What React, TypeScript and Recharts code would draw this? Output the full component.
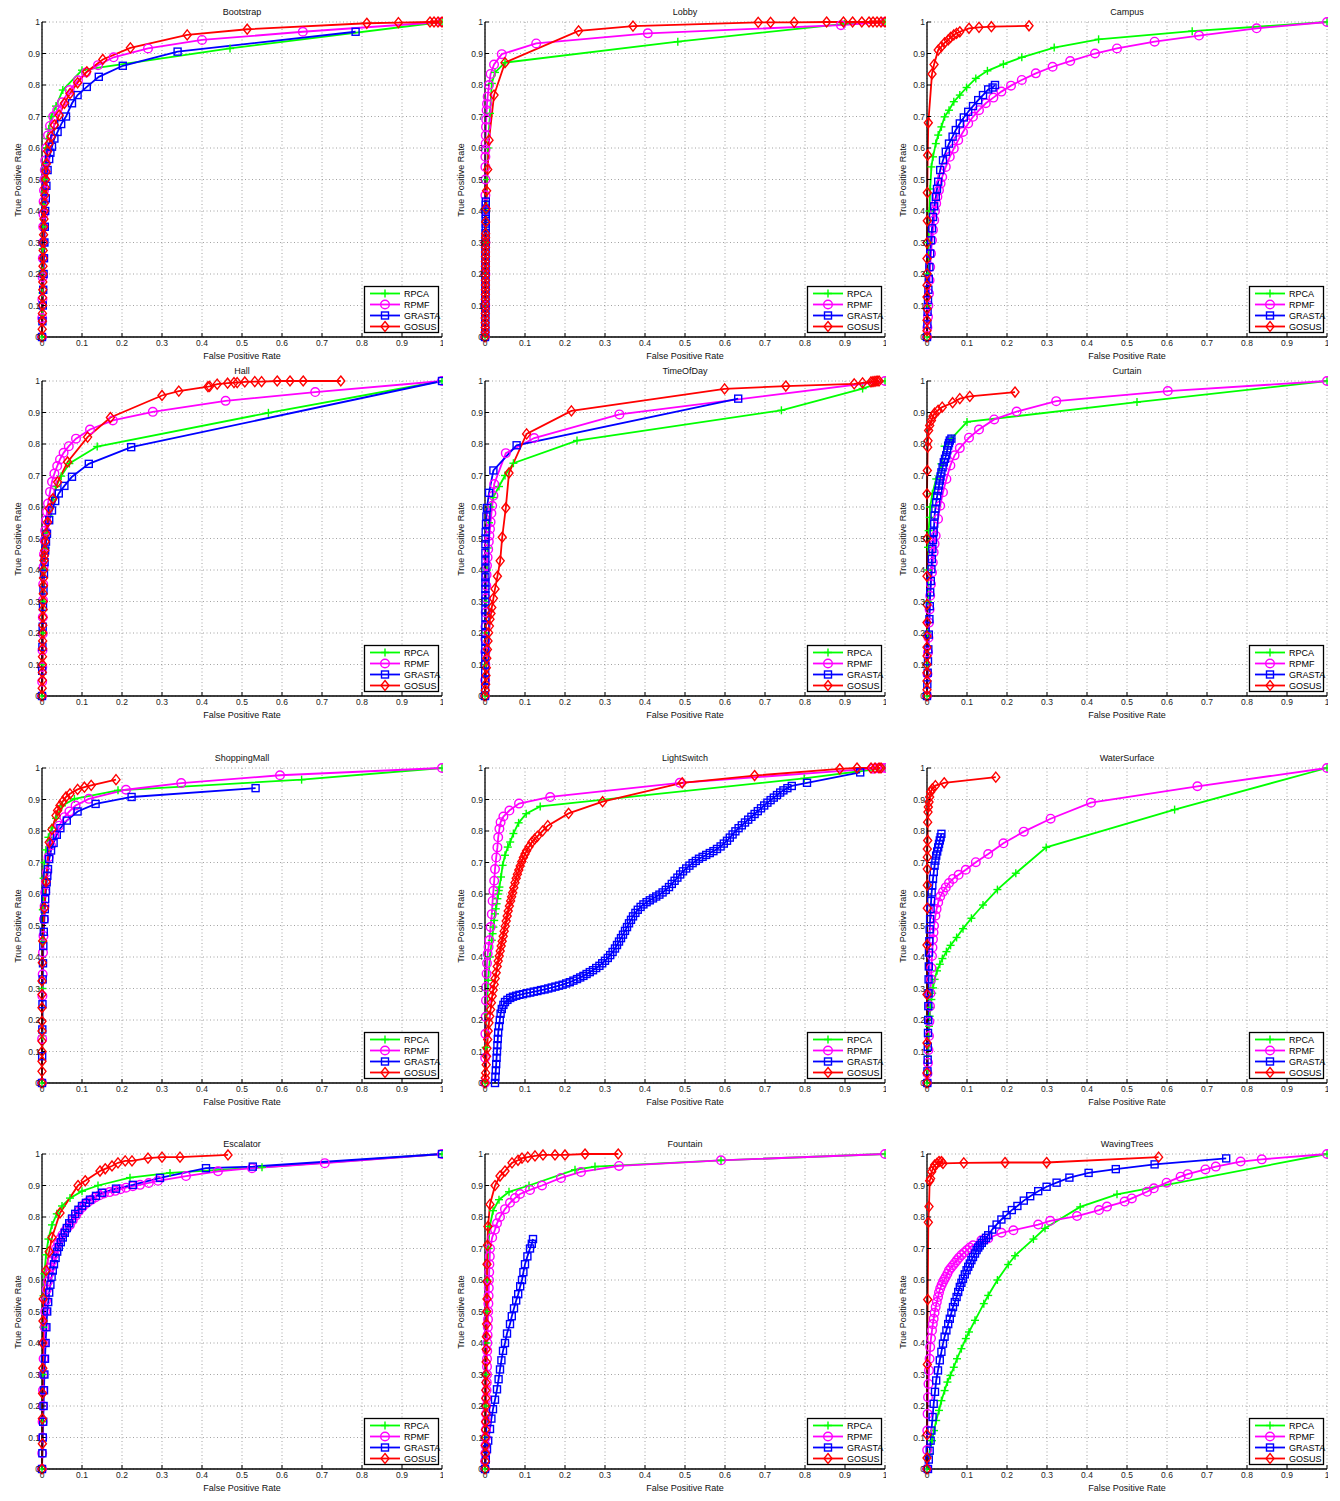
import { LineChart, Line, XAxis, YAxis, CartesianGrid, Legend } from 'recharts';

type Pt = [number, number];

const FONT = '"Liberation Sans", Arial, Helvetica, sans-serif';
const TICKS = [0, 0.1, 0.2, 0.3, 0.4, 0.5, 0.6, 0.7, 0.8, 0.9, 1];
const METHODS = ['RPCA', 'RPMF', 'GRASTA', 'GOSUS'];
const COLORS = ['#00ff00', '#ff00ff', '#0000ff', '#ff0000'];

// ---- Bootstrap
const bootstrapRPCA: Pt[] = [[0, 0], [0.0005, 0.07], [0.001, 0.14], [0.0015, 0.21], [0.002, 0.28], [0.003, 0.35], [0.004, 0.42], [0.005, 0.46], [0.006, 0.5], [0.008, 0.55], [0.01, 0.6], [0.013, 0.63], [0.017, 0.66], [0.023, 0.7], [0.035, 0.733], [0.052, 0.784], [0.1, 0.847], [0.47, 0.916], [1, 1]];
const bootstrapRPMF: Pt[] = [[0, 0], [0.0005, 0.06], [0.001, 0.12], [0.0015, 0.19], [0.002, 0.25], [0.0025, 0.3], [0.003, 0.35], [0.0035, 0.39], [0.004, 0.43], [0.005, 0.465], [0.006, 0.5], [0.007, 0.53], [0.008, 0.56], [0.011, 0.6], [0.015, 0.64], [0.02, 0.67], [0.028, 0.7], [0.038, 0.72], [0.05, 0.745], [0.069, 0.784], [0.09, 0.815], [0.11, 0.84], [0.14, 0.863], [0.179, 0.888], [0.265, 0.916], [0.4, 0.943], [0.652, 0.969], [1, 1]];
const bootstrapGRASTA: Pt[] = [[0, 0], [0.001, 0.05], [0.002, 0.1], [0.003, 0.15], [0.004, 0.2], [0.005, 0.25], [0.006, 0.3], [0.007, 0.35], [0.008, 0.4], [0.0095, 0.44], [0.011, 0.48], [0.014, 0.53], [0.018, 0.565], [0.021, 0.585], [0.025, 0.604], [0.031, 0.63], [0.039, 0.651], [0.048, 0.676], [0.06, 0.7], [0.075, 0.742], [0.089, 0.768], [0.112, 0.794], [0.142, 0.826], [0.202, 0.861], [0.339, 0.906], [0.784, 0.969]];
const bootstrapGOSUS: Pt[] = [[0, 0], [0.0005, 0.025], [0.001, 0.05], [0.001, 0.075], [0.0015, 0.1], [0.0015, 0.125], [0.002, 0.15], [0.002, 0.175], [0.0025, 0.2], [0.0025, 0.225], [0.003, 0.25], [0.003, 0.275], [0.0035, 0.3], [0.004, 0.325], [0.0045, 0.35], [0.005, 0.375], [0.0055, 0.4], [0.006, 0.425], [0.007, 0.45], [0.008, 0.475], [0.009, 0.5], [0.01, 0.525], [0.011, 0.55], [0.014, 0.59], [0.018, 0.615], [0.023, 0.636], [0.031, 0.673], [0.043, 0.704], [0.056, 0.742], [0.07, 0.773], [0.089, 0.807], [0.112, 0.842], [0.152, 0.881], [0.221, 0.918], [0.363, 0.959], [0.513, 0.977], [0.812, 0.996], [0.891, 0.998], [0.97, 1], [0.98, 1], [0.99, 1], [1, 1]];

// ---- Lobby
const lobbyRPCA: Pt[] = [[0, 0], [0.001, 0.1], [0.002, 0.2], [0.003, 0.3], [0.004, 0.4], [0.005, 0.5], [0.007, 0.6], [0.0125, 0.71], [0.017, 0.805], [0.025, 0.84], [0.05, 0.871], [0.482, 0.9375], [0.898, 0.994], [1, 1]];
const lobbyRPMF: Pt[] = [[0, 0], [0.0005, 0.1], [0.0008, 0.2], [0.001, 0.3], [0.001, 0.4], [0.001, 0.45], [0.001, 0.5], [0.001, 0.54], [0.001, 0.572], [0.0013, 0.595], [0.0017, 0.614], [0.002, 0.64], [0.0025, 0.667], [0.003, 0.69], [0.004, 0.72], [0.005, 0.74], [0.0067, 0.763], [0.01, 0.8], [0.014, 0.835], [0.0226, 0.865], [0.042, 0.898], [0.128, 0.932], [0.407, 0.964], [0.89, 0.99], [1, 1]];
const lobbyGRASTA: Pt[] = [[0, 0], [0.0005, 0.015], [0.0005, 0.03], [0.0005, 0.045], [0.0005, 0.06], [0.0008, 0.075], [0.0008, 0.09], [0.0008, 0.105], [0.0008, 0.12], [0.001, 0.135], [0.001, 0.15], [0.001, 0.165], [0.001, 0.18], [0.001, 0.195], [0.001, 0.21], [0.0012, 0.225], [0.0012, 0.24], [0.0012, 0.255], [0.0012, 0.27], [0.0015, 0.285], [0.0015, 0.3], [0.0015, 0.315], [0.0015, 0.33], [0.0018, 0.345], [0.0018, 0.36], [0.0018, 0.375], [0.0018, 0.39], [0.002, 0.405], [0.002, 0.42], [0.002, 0.43]];
const lobbyGOSUS: Pt[] = [[0, 0], [0.0003, 0.015], [0.0005, 0.03], [0.0005, 0.045], [0.0005, 0.06], [0.0007, 0.075], [0.0008, 0.09], [0.0008, 0.105], [0.0008, 0.12], [0.0009, 0.135], [0.001, 0.15], [0.001, 0.165], [0.001, 0.18], [0.001, 0.195], [0.001, 0.21], [0.001, 0.225], [0.0011, 0.24], [0.0011, 0.255], [0.0012, 0.27], [0.0012, 0.285], [0.0012, 0.3], [0.0014, 0.315], [0.0015, 0.328], [0.0017, 0.365], [0.0025, 0.408], [0.004, 0.464], [0.0067, 0.532], [0.01, 0.625], [0.0226, 0.768], [0.05, 0.871], [0.234, 0.972], [0.37, 0.987], [0.683, 0.999], [0.714, 0.999], [0.773, 0.999], [0.854, 1], [0.896, 1], [0.919, 1], [0.942, 1], [0.96, 1], [0.97, 1], [0.98, 1], [0.99, 1], [1, 1]];

// ---- Campus
const campusRPCA: Pt[] = [[0, 0], [0.001, 0.1], [0.002, 0.2], [0.004, 0.3], [0.006, 0.4], [0.008, 0.47], [0.011, 0.54], [0.015, 0.572], [0.022, 0.614], [0.028, 0.641], [0.036, 0.667], [0.044, 0.699], [0.055, 0.72], [0.067, 0.747], [0.082, 0.768], [0.099, 0.792], [0.122, 0.821], [0.151, 0.845], [0.191, 0.866], [0.237, 0.888], [0.318, 0.919], [0.429, 0.945], [0.663, 0.971], [1, 1]];
const campusRPMF: Pt[] = [[0, 0], [0.001, 0.03], [0.0025, 0.064], [0.0035, 0.1], [0.005, 0.138], [0.0065, 0.18], [0.008, 0.222], [0.01, 0.265], [0.0125, 0.307], [0.015, 0.34], [0.018, 0.371], [0.02, 0.4], [0.023, 0.424], [0.026, 0.445], [0.03, 0.466], [0.034, 0.487], [0.038, 0.508], [0.047, 0.54], [0.057, 0.572], [0.067, 0.598], [0.078, 0.625], [0.09, 0.651], [0.103, 0.678], [0.115, 0.699], [0.13, 0.72], [0.147, 0.742], [0.166, 0.76], [0.186, 0.779], [0.21, 0.798], [0.237, 0.816], [0.272, 0.837], [0.314, 0.858], [0.358, 0.876], [0.42, 0.9], [0.475, 0.916], [0.569, 0.9375], [0.68, 0.957], [0.824, 0.98], [1, 1]];
const campusGRASTA: Pt[] = [[0, 0], [0.001, 0.04], [0.0015, 0.08], [0.0025, 0.117], [0.0035, 0.15], [0.0045, 0.185], [0.006, 0.222], [0.008, 0.265], [0.01, 0.307], [0.0125, 0.345], [0.015, 0.381], [0.018, 0.415], [0.022, 0.445], [0.025, 0.47], [0.028, 0.493], [0.033, 0.53], [0.04, 0.561], [0.047, 0.588], [0.055, 0.614], [0.064, 0.636], [0.072, 0.657], [0.082, 0.678], [0.092, 0.697], [0.103, 0.715], [0.115, 0.733], [0.128, 0.752], [0.14, 0.768], [0.153, 0.786], [0.164, 0.792], [0.17, 0.8]];
const campusGOSUS: Pt[] = [[0, 0], [0, 0.02], [0, 0.053], [0, 0.09], [0, 0.127], [0, 0.164], [0, 0.201], [0, 0.249], [0, 0.299], [0.0008, 0.369], [0.0008, 0.458], [0.0017, 0.577], [0.0033, 0.68], [0.0125, 0.835], [0.0176, 0.865], [0.028, 0.911], [0.036, 0.922], [0.044, 0.934], [0.053, 0.943], [0.059, 0.951], [0.067, 0.959], [0.074, 0.964], [0.082, 0.969], [0.105, 0.98], [0.13, 0.983], [0.161, 0.985], [0.255, 0.988]];

// ---- Hall
const hallRPCA: Pt[] = [[0, 0], [0.001, 0.1], [0.002, 0.2], [0.004, 0.3], [0.006, 0.4], [0.009, 0.47], [0.0125, 0.517], [0.018, 0.571], [0.027, 0.624], [0.035, 0.665], [0.048, 0.698], [0.0685, 0.738], [0.138, 0.792], [0.566, 0.899], [1, 1]];
const hallRPMF: Pt[] = [[0, 0], [0.0004, 0.045], [0.0008, 0.092], [0.0012, 0.145], [0.0017, 0.198], [0.002, 0.25], [0.0025, 0.304], [0.003, 0.355], [0.004, 0.41], [0.005, 0.45], [0.0067, 0.494], [0.008, 0.525], [0.01, 0.558], [0.0125, 0.585], [0.015, 0.611], [0.02, 0.648], [0.025, 0.68], [0.031, 0.706], [0.038, 0.73], [0.045, 0.751], [0.054, 0.772], [0.067, 0.793], [0.085, 0.817], [0.12, 0.846], [0.177, 0.875], [0.277, 0.902], [0.459, 0.937], [0.683, 0.965], [1, 1]];
const hallGRASTA: Pt[] = [[0, 0], [0.0005, 0.08], [0.001, 0.156], [0.0017, 0.22], [0.0025, 0.283], [0.0037, 0.335], [0.005, 0.388], [0.0065, 0.425], [0.008, 0.462], [0.01, 0.49], [0.0125, 0.515], [0.018, 0.558], [0.025, 0.589], [0.033, 0.619], [0.042, 0.643], [0.056, 0.667], [0.075, 0.696], [0.117, 0.737], [0.223, 0.79], [1, 1]];
const hallGOSUS: Pt[] = [[0, 0], [0.0005, 0.025], [0.001, 0.05], [0.001, 0.075], [0.001, 0.1], [0.0012, 0.125], [0.0015, 0.15], [0.0017, 0.175], [0.002, 0.2], [0.002, 0.225], [0.0025, 0.25], [0.0027, 0.275], [0.003, 0.3], [0.0032, 0.325], [0.0035, 0.35], [0.0037, 0.375], [0.004, 0.4], [0.005, 0.43], [0.0058, 0.445], [0.0067, 0.462], [0.008, 0.49], [0.01, 0.515], [0.014, 0.552], [0.018, 0.595], [0.027, 0.626], [0.039, 0.679], [0.064, 0.743], [0.114, 0.822], [0.171, 0.884], [0.3, 0.954], [0.342, 0.968], [0.415, 0.982], [0.419, 0.983], [0.438, 0.99], [0.464, 0.993], [0.48, 0.995], [0.488, 0.995], [0.507, 0.997], [0.532, 0.998], [0.549, 0.998], [0.588, 1], [0.62, 1], [0.653, 1], [0.747, 1]];

// ---- TimeOfDay
const timeRPCA: Pt[] = [[0, 0], [0.001, 0.1], [0.002, 0.2], [0.003, 0.3], [0.005, 0.4], [0.007, 0.47], [0.01, 0.55], [0.014, 0.6], [0.02, 0.63], [0.035, 0.665], [0.05, 0.7], [0.071, 0.739], [0.23, 0.811], [0.741, 0.907], [0.944, 0.976], [1, 1]];
const timeRPMF: Pt[] = [[0, 0], [0.0004, 0.05], [0.0008, 0.1], [0.001, 0.14], [0.001, 0.18], [0.0013, 0.22], [0.0017, 0.265], [0.0025, 0.31], [0.0033, 0.35], [0.004, 0.385], [0.005, 0.414], [0.0065, 0.44], [0.008, 0.466], [0.0095, 0.49], [0.011, 0.509], [0.0125, 0.53], [0.014, 0.552], [0.016, 0.58], [0.018, 0.604], [0.021, 0.636], [0.023, 0.673], [0.052, 0.771], [0.123, 0.819], [0.336, 0.894], [1, 1]];
const timeGRASTA: Pt[] = [[0, 0], [0.0003, 0.025], [0.0005, 0.05], [0.0005, 0.075], [0.0005, 0.1], [0.0007, 0.125], [0.0008, 0.15], [0.0008, 0.175], [0.0008, 0.2], [0.001, 0.225], [0.001, 0.25], [0.001, 0.275], [0.001, 0.3], [0.001, 0.32], [0.001, 0.34], [0.001, 0.36], [0.001, 0.377], [0.001, 0.405], [0.001, 0.43], [0.001, 0.455], [0.001, 0.482], [0.0013, 0.5], [0.0017, 0.52], [0.0025, 0.546], [0.0035, 0.57], [0.005, 0.597], [0.01, 0.645], [0.021, 0.716], [0.079, 0.796], [0.633, 0.944]];
const timeGOSUS: Pt[] = [[0, 0], [0.0008, 0.018], [0.0017, 0.037], [0.0025, 0.065], [0.0033, 0.09], [0.0045, 0.12], [0.006, 0.148], [0.0075, 0.175], [0.009, 0.201], [0.011, 0.222], [0.0125, 0.244], [0.015, 0.262], [0.017, 0.281], [0.021, 0.31], [0.025, 0.34], [0.031, 0.38], [0.038, 0.429], [0.043, 0.504], [0.052, 0.597], [0.06, 0.708], [0.104, 0.832], [0.216, 0.905], [0.599, 0.975], [0.752, 0.984], [0.923, 0.991], [0.944, 0.994], [0.965, 0.997], [0.97, 0.998], [0.975, 0.999], [0.98, 1], [0.985, 1]];

// ---- Curtain
const curtainRPCA: Pt[] = [[0, 0], [0.0008, 0.1], [0.0015, 0.2], [0.002, 0.3], [0.0025, 0.4], [0.0025, 0.472], [0.004, 0.525], [0.0067, 0.567], [0.008, 0.6], [0.0134, 0.642], [0.023, 0.689], [0.036, 0.737], [0.044, 0.793], [0.061, 0.817], [0.1, 0.87], [0.525, 0.933], [1, 1]];
const curtainRPMF: Pt[] = [[0, 0], [0.0012, 0.07], [0.0025, 0.138], [0.0037, 0.185], [0.005, 0.233], [0.0065, 0.275], [0.008, 0.318], [0.01, 0.355], [0.0125, 0.392], [0.0145, 0.424], [0.0167, 0.456], [0.019, 0.483], [0.0217, 0.509], [0.0276, 0.562], [0.033, 0.604], [0.04, 0.647], [0.0485, 0.689], [0.0585, 0.732], [0.069, 0.764], [0.082, 0.787], [0.105, 0.82], [0.13, 0.846], [0.168, 0.878], [0.224, 0.903], [0.323, 0.936], [0.602, 0.968], [1, 1]];
const curtainGRASTA: Pt[] = [[0, 0], [0.0008, 0.037], [0.0017, 0.074], [0.0025, 0.11], [0.0033, 0.148], [0.0045, 0.195], [0.006, 0.244], [0.007, 0.285], [0.008, 0.329], [0.0095, 0.365], [0.011, 0.403], [0.012, 0.435], [0.0134, 0.467], [0.015, 0.495], [0.0167, 0.52], [0.018, 0.547], [0.019, 0.573], [0.021, 0.595], [0.023, 0.615], [0.0255, 0.635], [0.028, 0.652], [0.03, 0.668], [0.032, 0.684], [0.034, 0.697], [0.036, 0.71], [0.039, 0.726], [0.042, 0.742], [0.045, 0.753], [0.048, 0.764], [0.0505, 0.78], [0.053, 0.795], [0.055, 0.803], [0.057, 0.811], [0.061, 0.817]];
const curtainGOSUS: Pt[] = [[0, 0], [0, 0.02], [0, 0.048], [0, 0.074], [0, 0.1], [0, 0.127], [0, 0.155], [0, 0.19], [0, 0.233], [0, 0.29], [0, 0.38], [0, 0.5], [0, 0.642], [0.0008, 0.716], [0.0017, 0.79], [0.0025, 0.81], [0.004, 0.843], [0.0067, 0.859], [0.011, 0.875], [0.015, 0.888], [0.019, 0.898], [0.0276, 0.907], [0.038, 0.917], [0.064, 0.931], [0.082, 0.944], [0.107, 0.951], [0.22, 0.965]];

// ---- ShoppingMall
const mallRPCA: Pt[] = [[0, 0], [0.001, 0.15], [0.001, 0.3], [0.002, 0.45], [0.002, 0.55], [0.004, 0.65], [0.006, 0.7], [0.01, 0.74], [0.016, 0.78], [0.025, 0.81], [0.035, 0.84], [0.05, 0.88], [0.081, 0.902], [0.19, 0.929], [0.649, 0.963], [1, 1]];
const mallRPMF: Pt[] = [[0, 0], [0.0004, 0.14], [0.001, 0.276], [0.0017, 0.345], [0.0025, 0.414], [0.0037, 0.467], [0.005, 0.52], [0.0065, 0.562], [0.008, 0.605], [0.01, 0.637], [0.0125, 0.669], [0.0167, 0.717], [0.0226, 0.754], [0.031, 0.785], [0.043, 0.817], [0.056, 0.844], [0.0685, 0.862], [0.084, 0.881], [0.117, 0.902], [0.21, 0.931], [0.348, 0.952], [0.595, 0.977], [1, 1]];
const mallGRASTA: Pt[] = [[0, 0], [0.0004, 0.085], [0.0008, 0.17], [0.0012, 0.25], [0.0017, 0.329], [0.0025, 0.38], [0.0033, 0.435], [0.0045, 0.48], [0.006, 0.52], [0.007, 0.552], [0.008, 0.584], [0.01, 0.61], [0.0117, 0.637], [0.0133, 0.658], [0.015, 0.679], [0.018, 0.711], [0.0226, 0.738], [0.029, 0.762], [0.037, 0.788], [0.046, 0.809], [0.062, 0.833], [0.089, 0.862], [0.134, 0.886], [0.224, 0.908], [0.534, 0.936]];
const mallGOSUS: Pt[] = [[0, 0], [0, 0.037], [0, 0.069], [0, 0.1], [0, 0.133], [0, 0.165], [0, 0.196], [0, 0.239], [0, 0.281], [0, 0.324], [0.0008, 0.382], [0.0017, 0.451], [0.006, 0.555], [0.01, 0.639], [0.018, 0.764], [0.025, 0.805], [0.035, 0.849], [0.039, 0.865], [0.045, 0.881], [0.052, 0.894], [0.06, 0.908], [0.07, 0.918], [0.089, 0.932], [0.106, 0.939], [0.123, 0.945], [0.185, 0.963]];

// ---- LightSwitch
const lightRPCA: Pt[] = [[0, 0], [0.0017, 0.113], [0.004, 0.22], [0.008, 0.326], [0.0125, 0.4], [0.017, 0.453], [0.019, 0.474], [0.021, 0.495], [0.023, 0.516], [0.025, 0.537], [0.027, 0.553], [0.029, 0.569], [0.031, 0.585], [0.033, 0.6], [0.0345, 0.611], [0.036, 0.622], [0.04, 0.654], [0.044, 0.691], [0.05, 0.723], [0.057, 0.749], [0.063, 0.765], [0.071, 0.792], [0.084, 0.826], [0.103, 0.855], [0.138, 0.878], [0.798, 0.967], [1, 1]];
const lightRPMF: Pt[] = [[0, 0], [0.0005, 0.08], [0.001, 0.156], [0.0017, 0.21], [0.0025, 0.262], [0.003, 0.305], [0.004, 0.347], [0.005, 0.38], [0.0067, 0.41], [0.009, 0.432], [0.011, 0.453], [0.014, 0.495], [0.017, 0.536], [0.019, 0.578], [0.021, 0.61], [0.023, 0.642], [0.025, 0.679], [0.028, 0.716], [0.031, 0.748], [0.033, 0.78], [0.036, 0.807], [0.039, 0.828], [0.046, 0.846], [0.061, 0.865], [0.085, 0.887], [0.163, 0.908], [0.487, 0.953], [0.97, 0.998], [0.98, 0.999], [0.99, 1], [1, 1]];
const lightGRASTA: Pt[] = [[0.025, 0], [0.026, 0.02], [0.027, 0.04], [0.028, 0.06], [0.029, 0.08], [0.03, 0.1], [0.031, 0.12], [0.032, 0.14], [0.033, 0.16], [0.035, 0.18], [0.037, 0.2], [0.039, 0.22], [0.042, 0.235], [0.046, 0.248], [0.05, 0.257], [0.056, 0.264], [0.063, 0.27], [0.07, 0.274], [0.078, 0.277], [0.086, 0.28], [0.095, 0.282], [0.104, 0.285], [0.113, 0.287], [0.122, 0.29], [0.131, 0.292], [0.14, 0.295], [0.149, 0.297], [0.158, 0.3], [0.167, 0.303], [0.176, 0.306], [0.185, 0.309], [0.194, 0.312], [0.203, 0.316], [0.212, 0.32], [0.221, 0.325], [0.23, 0.33], [0.238, 0.335], [0.246, 0.34], [0.254, 0.346], [0.262, 0.352], [0.27, 0.358], [0.278, 0.365], [0.286, 0.372], [0.293, 0.38], [0.3, 0.388], [0.307, 0.397], [0.313, 0.406], [0.319, 0.416], [0.325, 0.427], [0.33, 0.438], [0.335, 0.449], [0.34, 0.46], [0.345, 0.471], [0.35, 0.483], [0.355, 0.495], [0.36, 0.507], [0.365, 0.518], [0.37, 0.529], [0.376, 0.54], [0.382, 0.55], [0.389, 0.559], [0.396, 0.567], [0.404, 0.574], [0.412, 0.58], [0.42, 0.586], [0.428, 0.592], [0.436, 0.598], [0.444, 0.605], [0.452, 0.613], [0.46, 0.622], [0.467, 0.632], [0.474, 0.642], [0.481, 0.652], [0.488, 0.662], [0.495, 0.672], [0.503, 0.681], [0.511, 0.69], [0.519, 0.698], [0.527, 0.705], [0.535, 0.712], [0.544, 0.718], [0.553, 0.724], [0.562, 0.73], [0.571, 0.736], [0.58, 0.743], [0.589, 0.751], [0.597, 0.76], [0.605, 0.769], [0.612, 0.779], [0.619, 0.789], [0.626, 0.799], [0.634, 0.809], [0.642, 0.818], [0.65, 0.827], [0.658, 0.836], [0.666, 0.845], [0.674, 0.854], [0.682, 0.863], [0.69, 0.872], [0.698, 0.881], [0.706, 0.89], [0.714, 0.898], [0.722, 0.906], [0.73, 0.914], [0.738, 0.922], [0.746, 0.929], [0.756, 0.936], [0.767, 0.943], [0.805, 0.953], [0.938, 0.986]];
const lightGOSUS: Pt[] = [[0, 0], [0.0008, 0.016], [0.0017, 0.032], [0.003, 0.058], [0.004, 0.085], [0.005, 0.11], [0.0067, 0.138], [0.008, 0.165], [0.01, 0.191], [0.012, 0.212], [0.014, 0.233], [0.016, 0.255], [0.018, 0.276], [0.0205, 0.295], [0.023, 0.313], [0.0255, 0.332], [0.028, 0.35], [0.0305, 0.37], [0.033, 0.387], [0.0355, 0.403], [0.038, 0.419], [0.0405, 0.435], [0.043, 0.45], [0.0455, 0.466], [0.048, 0.482], [0.0505, 0.498], [0.053, 0.514], [0.0555, 0.53], [0.058, 0.546], [0.061, 0.562], [0.064, 0.578], [0.0665, 0.591], [0.069, 0.604], [0.072, 0.62], [0.075, 0.636], [0.078, 0.65], [0.081, 0.663], [0.0845, 0.676], [0.088, 0.689], [0.092, 0.703], [0.096, 0.716], [0.1, 0.727], [0.104, 0.737], [0.11, 0.75], [0.117, 0.764], [0.124, 0.774], [0.131, 0.783], [0.144, 0.8], [0.157, 0.817], [0.209, 0.856], [0.294, 0.893], [0.493, 0.953], [0.674, 0.976], [0.887, 0.997], [0.93, 1], [0.965, 1], [0.975, 1], [0.985, 1], [0.99, 1]];

// ---- WaterSurface
const waterRPCA: Pt[] = [[0, 0], [0.0012, 0.04], [0.0025, 0.085], [0.003, 0.115], [0.004, 0.149], [0.005, 0.18], [0.0067, 0.212], [0.009, 0.24], [0.011, 0.265], [0.013, 0.285], [0.015, 0.302], [0.019, 0.329], [0.025, 0.356], [0.032, 0.377], [0.0385, 0.395], [0.0485, 0.417], [0.059, 0.437], [0.074, 0.462], [0.09, 0.49], [0.111, 0.523], [0.14, 0.565], [0.176, 0.614], [0.222, 0.666], [0.298, 0.748], [0.619, 0.868], [1, 1]];
const waterRPMF: Pt[] = [[0, 0], [0.0012, 0.03], [0.0025, 0.064], [0.0037, 0.105], [0.005, 0.149], [0.006, 0.195], [0.0075, 0.244], [0.0087, 0.285], [0.01, 0.329], [0.011, 0.365], [0.0125, 0.403], [0.0137, 0.43], [0.015, 0.456], [0.0163, 0.478], [0.0176, 0.499], [0.021, 0.531], [0.024, 0.552], [0.028, 0.573], [0.033, 0.592], [0.04, 0.607], [0.047, 0.621], [0.055, 0.635], [0.065, 0.648], [0.079, 0.661], [0.097, 0.677], [0.122, 0.701], [0.153, 0.727], [0.191, 0.761], [0.242, 0.798], [0.309, 0.839], [0.41, 0.89], [0.676, 0.942], [1, 1]];
const waterGRASTA: Pt[] = [[0.0008, 0], [0.0012, 0.037], [0.0017, 0.074], [0.002, 0.115], [0.0025, 0.159], [0.003, 0.2], [0.0033, 0.244], [0.0037, 0.285], [0.004, 0.329], [0.0045, 0.37], [0.005, 0.414], [0.0058, 0.45], [0.0067, 0.488], [0.0078, 0.52], [0.009, 0.552], [0.0103, 0.578], [0.0117, 0.605], [0.0133, 0.627], [0.015, 0.648], [0.017, 0.67], [0.019, 0.69], [0.021, 0.706], [0.023, 0.722], [0.0255, 0.735], [0.028, 0.748], [0.03, 0.759], [0.032, 0.77], [0.034, 0.78], [0.036, 0.791]];
const waterGOSUS: Pt[] = [[0, 0], [0, 0.032], [0, 0.127], [0, 0.281], [0, 0.438], [0.0008, 0.555], [0.0008, 0.628], [0.0008, 0.679], [0.0008, 0.717], [0.0008, 0.743], [0.0017, 0.77], [0.0017, 0.828], [0.0025, 0.86], [0.0033, 0.876], [0.005, 0.892], [0.0067, 0.908], [0.009, 0.924], [0.0134, 0.934], [0.021, 0.944], [0.043, 0.953], [0.172, 0.971]];

// ---- Escalator
const escRPCA: Pt[] = [[0, 0], [0.001, 0.15], [0.002, 0.3], [0.003, 0.45], [0.004, 0.55], [0.006, 0.62], [0.01, 0.68], [0.016, 0.73], [0.025, 0.775], [0.037, 0.81], [0.05, 0.835], [0.07, 0.86], [0.1, 0.882], [0.14, 0.9], [0.22, 0.925], [0.32, 0.94], [0.55, 0.958], [1, 1]];
const escRPMF: Pt[] = [[0, 0], [0.0005, 0.05], [0.001, 0.1], [0.0015, 0.15], [0.002, 0.2], [0.0025, 0.25], [0.003, 0.3], [0.004, 0.35], [0.005, 0.4], [0.0065, 0.45], [0.008, 0.5], [0.01, 0.535], [0.012, 0.57], [0.015, 0.595], [0.018, 0.62], [0.0215, 0.64], [0.025, 0.66], [0.03, 0.68], [0.035, 0.7], [0.04, 0.715], [0.045, 0.73], [0.051, 0.743], [0.057, 0.755], [0.063, 0.765], [0.07, 0.775], [0.077, 0.79], [0.085, 0.805], [0.092, 0.818], [0.1, 0.83], [0.107, 0.84], [0.115, 0.848], [0.124, 0.855], [0.133, 0.862], [0.144, 0.869], [0.155, 0.875], [0.169, 0.879], [0.183, 0.883], [0.196, 0.888], [0.21, 0.893], [0.227, 0.898], [0.245, 0.902], [0.267, 0.908], [0.29, 0.915], [0.36, 0.93], [0.44, 0.945], [0.525, 0.955], [0.707, 0.971], [1, 1]];
const escGRASTA: Pt[] = [[0, 0], [0.001, 0.05], [0.002, 0.1], [0.003, 0.15], [0.004, 0.2], [0.005, 0.25], [0.006, 0.3], [0.0075, 0.35], [0.009, 0.4], [0.011, 0.45], [0.013, 0.5], [0.0155, 0.53], [0.018, 0.56], [0.021, 0.585], [0.024, 0.61], [0.027, 0.63], [0.03, 0.65], [0.034, 0.67], [0.038, 0.69], [0.042, 0.705], [0.047, 0.72], [0.052, 0.735], [0.057, 0.75], [0.062, 0.765], [0.068, 0.78], [0.075, 0.795], [0.083, 0.81], [0.091, 0.823], [0.1, 0.835], [0.11, 0.845], [0.12, 0.855], [0.135, 0.867], [0.15, 0.877], [0.185, 0.89], [0.227, 0.902], [0.295, 0.924], [0.41, 0.955], [0.527, 0.96], [1, 1]];
const escGOSUS: Pt[] = [[0, 0], [0.001, 0.08], [0.001, 0.16], [0.0015, 0.24], [0.002, 0.32], [0.002, 0.4], [0.0025, 0.47], [0.003, 0.54], [0.01, 0.63], [0.018, 0.69], [0.025, 0.735], [0.045, 0.813], [0.09, 0.9], [0.108, 0.915], [0.145, 0.946], [0.158, 0.953], [0.175, 0.962], [0.19, 0.972], [0.208, 0.978], [0.225, 0.978], [0.265, 0.987], [0.3, 0.99], [0.345, 0.99], [0.465, 0.997]];

// ---- Fountain
const fountRPCA: Pt[] = [[0, 0], [0.001, 0.1], [0.002, 0.2], [0.003, 0.3], [0.004, 0.4], [0.005, 0.5], [0.006, 0.6], [0.008, 0.7], [0.012, 0.77], [0.02, 0.82], [0.035, 0.855], [0.06, 0.88], [0.11, 0.9], [0.225, 0.95], [0.275, 0.96], [0.59, 0.98], [1, 1]];
const fountRPMF: Pt[] = [[0, 0], [0.0005, 0.025], [0.001, 0.05], [0.0015, 0.075], [0.002, 0.1], [0.0025, 0.125], [0.003, 0.15], [0.003, 0.175], [0.003, 0.2], [0.0035, 0.225], [0.004, 0.25], [0.0045, 0.275], [0.005, 0.3], [0.005, 0.325], [0.005, 0.35], [0.0055, 0.375], [0.006, 0.4], [0.0065, 0.425], [0.007, 0.45], [0.0075, 0.475], [0.008, 0.5], [0.0085, 0.525], [0.009, 0.55], [0.0095, 0.575], [0.01, 0.6], [0.0105, 0.625], [0.011, 0.65], [0.012, 0.675], [0.0125, 0.7], [0.018, 0.735], [0.025, 0.76], [0.03, 0.78], [0.0375, 0.8], [0.05, 0.825], [0.0625, 0.845], [0.075, 0.86], [0.0875, 0.873], [0.1125, 0.886], [0.1425, 0.9], [0.19, 0.924], [0.24, 0.943], [0.335, 0.962], [0.59, 0.98], [1, 1]];
const fountGRASTA: Pt[] = [[0, 0], [0.002, 0.03], [0.005, 0.063], [0.008, 0.09], [0.0125, 0.127], [0.016, 0.16], [0.02, 0.19], [0.025, 0.22], [0.03, 0.253], [0.034, 0.285], [0.0375, 0.316], [0.041, 0.345], [0.045, 0.375], [0.05, 0.4], [0.055, 0.43], [0.0625, 0.46], [0.067, 0.485], [0.0725, 0.51], [0.078, 0.535], [0.083, 0.555], [0.088, 0.58], [0.0925, 0.6], [0.096, 0.625], [0.1, 0.65], [0.106, 0.675], [0.1125, 0.7], [0.117, 0.715], [0.12, 0.73]];
const fountGOSUS: Pt[] = [[0, 0], [0.0005, 0.025], [0.001, 0.05], [0.001, 0.075], [0.001, 0.1], [0.0012, 0.125], [0.0015, 0.15], [0.0017, 0.175], [0.002, 0.2], [0.002, 0.225], [0.002, 0.25], [0.0022, 0.275], [0.0025, 0.3], [0.0028, 0.34], [0.003, 0.38], [0.0035, 0.42], [0.004, 0.46], [0.0045, 0.5], [0.005, 0.54], [0.005, 0.595], [0.005, 0.65], [0.006, 0.71], [0.0075, 0.77], [0.0125, 0.84], [0.025, 0.9], [0.0375, 0.93], [0.05, 0.946], [0.0675, 0.972], [0.0825, 0.98], [0.0925, 0.987], [0.107, 0.99], [0.125, 0.994], [0.145, 0.997], [0.175, 0.997], [0.2, 0.997], [0.25, 1], [0.333, 1]];

// ---- WavingTrees
const treesRPCA: Pt[] = [[0, 0], [0.0067, 0.048], [0.0125, 0.09], [0.0176, 0.122], [0.023, 0.154], [0.03, 0.186], [0.036, 0.217], [0.044, 0.249], [0.051, 0.276], [0.0585, 0.297], [0.067, 0.323], [0.075, 0.35], [0.086, 0.382], [0.097, 0.414], [0.105, 0.435], [0.12, 0.472], [0.142, 0.525], [0.153, 0.551], [0.176, 0.6], [0.203, 0.649], [0.22, 0.677], [0.266, 0.73], [0.295, 0.764], [0.383, 0.832], [0.475, 0.872], [1, 1]];
const treesRPMF: Pt[] = [[0, 0], [0.0004, 0.06], [0.0008, 0.122], [0.0015, 0.175], [0.0025, 0.228], [0.0037, 0.27], [0.005, 0.313], [0.0065, 0.35], [0.008, 0.387], [0.01, 0.415], [0.0125, 0.44], [0.0145, 0.46], [0.0167, 0.477], [0.019, 0.496], [0.0217, 0.514], [0.0245, 0.53], [0.0276, 0.546], [0.03, 0.56], [0.033, 0.573], [0.0365, 0.584], [0.04, 0.594], [0.0435, 0.602], [0.047, 0.61], [0.051, 0.62], [0.055, 0.631], [0.06, 0.639], [0.065, 0.647], [0.07, 0.655], [0.075, 0.663], [0.08, 0.671], [0.086, 0.679], [0.093, 0.687], [0.1, 0.695], [0.107, 0.703], [0.115, 0.71], [0.136, 0.726], [0.153, 0.732], [0.186, 0.75], [0.216, 0.758], [0.278, 0.776], [0.308, 0.788], [0.375, 0.803], [0.43, 0.822], [0.45, 0.833], [0.494, 0.849], [0.512, 0.859], [0.55, 0.88], [0.567, 0.891], [0.599, 0.909], [0.634, 0.928], [0.652, 0.936], [0.696, 0.951], [0.722, 0.96], [0.784, 0.976], [0.837, 0.983], [1, 1]];
const treesGRASTA: Pt[] = [[0.0025, 0], [0.0045, 0.03], [0.0067, 0.058], [0.009, 0.09], [0.011, 0.122], [0.014, 0.165], [0.0167, 0.207], [0.02, 0.245], [0.023, 0.281], [0.0275, 0.313], [0.032, 0.345], [0.036, 0.372], [0.04, 0.398], [0.044, 0.42], [0.0485, 0.44], [0.053, 0.46], [0.057, 0.477], [0.061, 0.496], [0.065, 0.514], [0.0695, 0.53], [0.074, 0.546], [0.078, 0.562], [0.082, 0.578], [0.086, 0.591], [0.09, 0.604], [0.0945, 0.618], [0.099, 0.631], [0.103, 0.642], [0.107, 0.652], [0.111, 0.663], [0.115, 0.673], [0.12, 0.684], [0.124, 0.695], [0.128, 0.703], [0.132, 0.71], [0.137, 0.718], [0.142, 0.726], [0.1475, 0.734], [0.153, 0.742], [0.163, 0.76], [0.174, 0.776], [0.186, 0.792], [0.199, 0.806], [0.212, 0.822], [0.226, 0.835], [0.242, 0.852], [0.258, 0.866], [0.278, 0.882], [0.299, 0.896], [0.324, 0.909], [0.356, 0.925], [0.404, 0.94], [0.472, 0.952], [0.569, 0.967], [0.748, 0.986]];
const treesGOSUS: Pt[] = [[0, 0], [0, 0.035], [0, 0.109], [0.0008, 0.332], [0.0017, 0.538], [0.0033, 0.783], [0.005, 0.833], [0.0067, 0.915], [0.009, 0.922], [0.0117, 0.944], [0.015, 0.954], [0.019, 0.965], [0.025, 0.97], [0.03, 0.976], [0.036, 0.976], [0.04, 0.97], [0.092, 0.972], [0.195, 0.973], [0.299, 0.973], [0.579, 0.99]];

const PANELS = [
  { title: 'Bootstrap', series: [bootstrapRPCA, bootstrapRPMF, bootstrapGRASTA, bootstrapGOSUS] },
  { title: 'Lobby', series: [lobbyRPCA, lobbyRPMF, lobbyGRASTA, lobbyGOSUS] },
  { title: 'Campus', series: [campusRPCA, campusRPMF, campusGRASTA, campusGOSUS] },
  { title: 'Hall', series: [hallRPCA, hallRPMF, hallGRASTA, hallGOSUS] },
  { title: 'TimeOfDay', series: [timeRPCA, timeRPMF, timeGRASTA, timeGOSUS] },
  { title: 'Curtain', series: [curtainRPCA, curtainRPMF, curtainGRASTA, curtainGOSUS] },
  { title: 'ShoppingMall', series: [mallRPCA, mallRPMF, mallGRASTA, mallGOSUS] },
  { title: 'LightSwitch', series: [lightRPCA, lightRPMF, lightGRASTA, lightGOSUS] },
  { title: 'WaterSurface', series: [waterRPCA, waterRPMF, waterGRASTA, waterGOSUS] },
  { title: 'Escalator', series: [escRPCA, escRPMF, escGRASTA, escGOSUS] },
  { title: 'Fountain', series: [fountRPCA, fountRPMF, fountGRASTA, fountGOSUS] },
  { title: 'WavingTrees', series: [treesRPCA, treesRPMF, treesGRASTA, treesGOSUS] },
];

const COL_LEFT = [42, 485, 927];
const ROW_TOP = [22, 381, 768, 1154];
const PLOT_W = 400;
const PLOT_H = 315;
const W = 443;
const H = 370;

const toRows = (pts: Pt[]) => pts.map(([x, y]) => ({ x, y }));
const fmt = (v: number) => String(v);

function Marker({ kind, cx, cy, color }: { kind: number; cx: number; cy: number; color: string }) {
  const sw = 1.4;
  if (kind === 0) {
    return (
      <g>
        <line x1={cx - 4} y1={cy} x2={cx + 4} y2={cy} stroke={color} strokeWidth={sw} />
        <line x1={cx} y1={cy - 4} x2={cx} y2={cy + 4} stroke={color} strokeWidth={sw} />
      </g>
    );
  }
  if (kind === 1) return <circle cx={cx} cy={cy} r={4.3} fill="none" stroke={color} strokeWidth={sw} />;
  if (kind === 2) return <rect x={cx - 3.5} y={cy - 3.5} width={7} height={7} fill="none" stroke={color} strokeWidth={sw} />;
  return (
    <polygon
      points={`${cx},${cy - 5} ${cx + 4},${cy} ${cx},${cy + 5} ${cx - 4},${cy}`}
      fill="none"
      stroke={color}
      strokeWidth={sw}
    />
  );
}

function LegendBox() {
  return (
    <svg width={76} height={48} style={{ display: 'block', overflow: 'visible' }}>
      <rect x={0.5} y={0.5} width={74} height={46} fill="#fff" stroke="#000" strokeWidth={1.3} />
      {METHODS.map((m, i) => {
        const y = 7.5 + i * 11;
        return (
          <g key={m}>
            <line x1={6} x2={36} y1={y} y2={y} stroke={COLORS[i]} strokeWidth={1.8} />
            <Marker kind={i} cx={21} cy={y} color={COLORS[i]} />
            <text x={40} y={y + 3.2} fontSize={9} fontFamily={FONT} fill="#000">
              {m}
            </text>
          </g>
        );
      })}
    </svg>
  );
}

const textStyle = { position: 'absolute' as const, fontFamily: FONT, fontSize: 9, color: '#111', whiteSpace: 'nowrap' as const, lineHeight: '10px' };

function Panel({ title, series, left, top }: { title: string; series: Pt[][]; left: number; top: number }) {
  const tickStyle = { fontSize: 8.5, fill: '#222', fontFamily: FONT };
  return (
    <>
      <div style={{ position: 'absolute', left: left - 42, top: top - 22, width: W, height: H }}>
        <LineChart width={W} height={H} margin={{ top: 22, right: 1, bottom: 13, left: 12 }}>
          <CartesianGrid stroke="#8a8a8a" strokeDasharray="1 2.5" strokeWidth={0.8} />
          <XAxis
            type="number"
            dataKey="x"
            domain={[0, 1]}
            ticks={TICKS}
            interval={0}
            tickFormatter={fmt}
            tick={tickStyle}
            tickSize={-4}
            tickMargin={7}
            height={20}
            axisLine={{ stroke: '#000', strokeWidth: 1.3 }}
            tickLine={{ stroke: '#000' }}
          />
          <XAxis
            xAxisId="top"
            orientation="top"
            type="number"
            dataKey="x"
            domain={[0, 1]}
            ticks={TICKS}
            interval={0}
            tick={false}
            tickSize={-4}
            height={0}
            axisLine={{ stroke: '#000', strokeWidth: 1.3 }}
            tickLine={{ stroke: '#000' }}
          />
          <YAxis
            type="number"
            domain={[0, 1]}
            ticks={TICKS}
            interval={0}
            tickFormatter={fmt}
            tick={tickStyle}
            tickSize={-4}
            tickMargin={6}
            width={30}
            axisLine={{ stroke: '#000', strokeWidth: 1.3 }}
            tickLine={{ stroke: '#000' }}
          />
          <YAxis
            yAxisId="right"
            orientation="right"
            type="number"
            domain={[0, 1]}
            ticks={TICKS}
            interval={0}
            tick={false}
            tickSize={-4}
            width={0}
            axisLine={{ stroke: '#000', strokeWidth: 1.3 }}
            tickLine={{ stroke: '#000' }}
          />
          {series.map((pts, i) => (
            <Line
              key={METHODS[i]}
              name={METHODS[i]}
              data={toRows(pts)}
              dataKey="y"
              type="linear"
              stroke={COLORS[i]}
              strokeWidth={1.8}
              activeDot={false}
              isAnimationActive={false}
              dot={(p: any) => <Marker key={`${METHODS[i]}-${p.index}`} kind={i} cx={p.cx} cy={p.cy} color={COLORS[i]} />}
            />
          ))}
          <Legend
            layout="vertical"
            align="center"
            verticalAlign="middle"
            content={() => <LegendBox />}
            wrapperStyle={{ left: 42 + PLOT_W - 78, top: 22 + PLOT_H - 51, width: 76, height: 48 }}
          />
        </LineChart>
      </div>
      <div style={{ ...textStyle, left: left, width: PLOT_W, top: top - 15, textAlign: 'center' }}>{title}</div>
      <div style={{ ...textStyle, left: left, width: PLOT_W, top: top + PLOT_H + 14, textAlign: 'center' }}>False Positive Rate</div>
      <div
        style={{
          ...textStyle,
          left: left - 24 - 60,
          top: top + PLOT_H / 2 - 5,
          width: 120,
          textAlign: 'center',
          transform: 'rotate(-90deg)',
        }}
      >
        True Positive Rate
      </div>
    </>
  );
}

export default function App() {
  return (
    <div style={{ position: 'absolute', left: 0, top: 0, width: 1340, height: 1501, background: '#fff' }}>
      {PANELS.map((p, idx) => (
        <Panel
          key={p.title}
          title={p.title}
          series={p.series}
          left={COL_LEFT[idx % 3]}
          top={ROW_TOP[Math.floor(idx / 3)]}
        />
      ))}
    </div>
  );
}
